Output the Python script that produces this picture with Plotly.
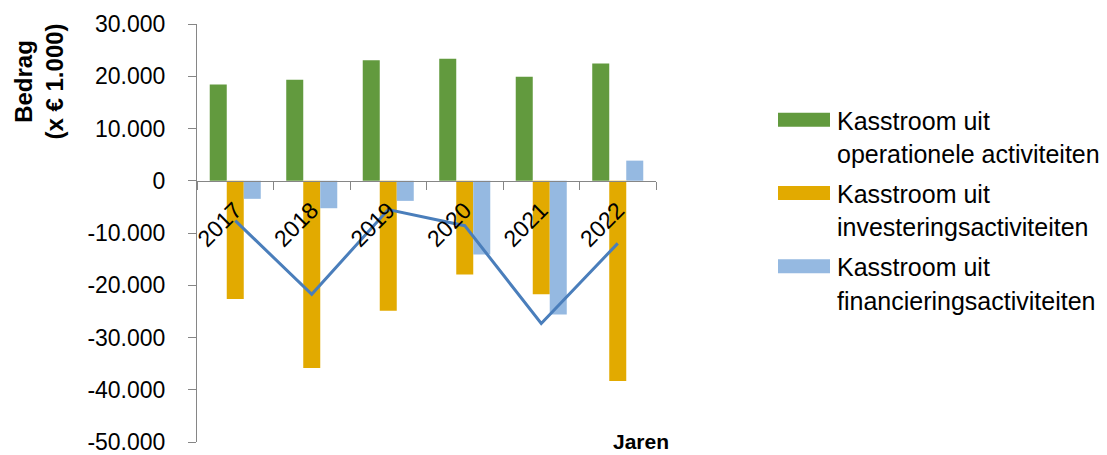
import plotly.graph_objects as go

years = ["2017", "2018", "2019", "2020", "2021", "2022"]
operationeel = [18400, 19350, 23080, 23330, 19920, 22420]
investering = [-22630, -35840, -24880, -17960, -21730, -38340]
financiering = [-3460, -5260, -3850, -14110, -25580, 3850]
netto = [-7630, -21730, -5520, -8600, -27310, -11990]

series_names = [
    "Kasstroom uit<br>operationele activiteiten",
    "Kasstroom uit<br>investeringsactiviteiten",
    "Kasstroom uit<br>financieringsactiviteiten",
]
series_colors = ["#629A3E", "#E2AA00", "#95B9E1"]
line_color = "#4A7EBB"

y_tickvals = [30000, 20000, 10000, 0, -10000, -20000, -30000, -40000, -50000]
y_ticktext = ["30.000", "20.000", "10.000", "0", "-10.000", "-20.000", "-30.000", "-40.000", "-50.000"]
y_min, y_max = -50000, 30000

y_title = "Bedrag<br>(x € 1.000)"
x_title = "Jaren"

FONT = "Liberation Sans"

# plot area in pixels (layout only)
W, H = 1107, 455
L, R, T, B = 197, 656, 24, 442


def px_x(px):
    return (px - L) / (R - L)


def px_y(py):
    return (B - py) / (B - T)


fig = go.Figure()
for name, vals, col in zip(series_names, [operationeel, investering, financiering], series_colors):
    fig.add_trace(go.Bar(x=years, y=vals, name=name.replace("<br>", " "),
                         marker=dict(color=col, line=dict(width=0)), showlegend=False))

fig.add_trace(go.Scatter(x=years, y=netto, mode="lines", line=dict(color=line_color, width=3),
                         showlegend=False, name="Netto"))

# custom legend (wide swatches like the original)
shapes = []
annotations = []
item_y0 = 119.7
item_step = 73.3
line_step = 33.5
for i, (name, col) in enumerate(zip(series_names, series_colors)):
    cy = item_y0 + i * item_step
    shapes.append(dict(type="rect", xref="paper", yref="paper",
                       x0=px_x(778), x1=px_x(830), y0=px_y(cy - 7), y1=px_y(cy + 7),
                       fillcolor=col, line=dict(width=0)))
    for j, part in enumerate(name.split("<br>")):
        annotations.append(dict(text=part, xref="paper", yref="paper",
                                x=px_x(835), y=px_y(cy + 1 + j * line_step),
                                xanchor="left", yanchor="middle", showarrow=False,
                                font=dict(family=FONT, size=25, color="#000000")))

annotations.append(dict(text="<b>" + y_title + "</b>", xref="paper", yref="paper",
                        x=px_x(38.5), y=px_y(82),
                        xanchor="center", yanchor="middle", textangle=-90, showarrow=False,
                        font=dict(family=FONT, size=24, color="#000000")))
annotations.append(dict(text="<b>" + x_title + "</b>", xref="paper", yref="paper",
                        x=px_x(641), y=px_y(441),
                        xanchor="center", yanchor="middle", showarrow=False,
                        font=dict(family=FONT, size=21, color="#000000")))

axis_gray = "#868686"
fig.update_layout(
    width=W, height=H,
    margin=dict(l=L, r=W - R, t=T, b=H - B),
    paper_bgcolor="white", plot_bgcolor="white",
    barmode="group", bargap=0.333, bargroupgap=0,
    font=dict(family=FONT, size=23, color="#000000"),
    showlegend=False,
    xaxis=dict(
        type="category", anchor="free", position=(0 - y_min) / (y_max - y_min),
        showline=True, linecolor=axis_gray, linewidth=1, automargin=False,
        ticks="outside", ticklen=8, tickcolor=axis_gray, tickson="boundaries",
        tickangle=-45, showgrid=False, zeroline=False, ticklabelstandoff=6,
        tickfont=dict(family=FONT, size=23, color="#000000"),
    ),
    yaxis=dict(
        range=[y_min, y_max], tickvals=y_tickvals, ticktext=y_ticktext,
        showline=True, linecolor=axis_gray, linewidth=1, automargin=False,
        ticks="outside", ticklen=8, tickcolor=axis_gray,
        showgrid=False, zeroline=False, ticklabelstandoff=18,
        ticklabeloverflow="allow",
        tickfont=dict(family=FONT, size=23, color="#000000"),
    ),
    shapes=shapes,
    annotations=annotations,
)

fig.write_html("out.html")
